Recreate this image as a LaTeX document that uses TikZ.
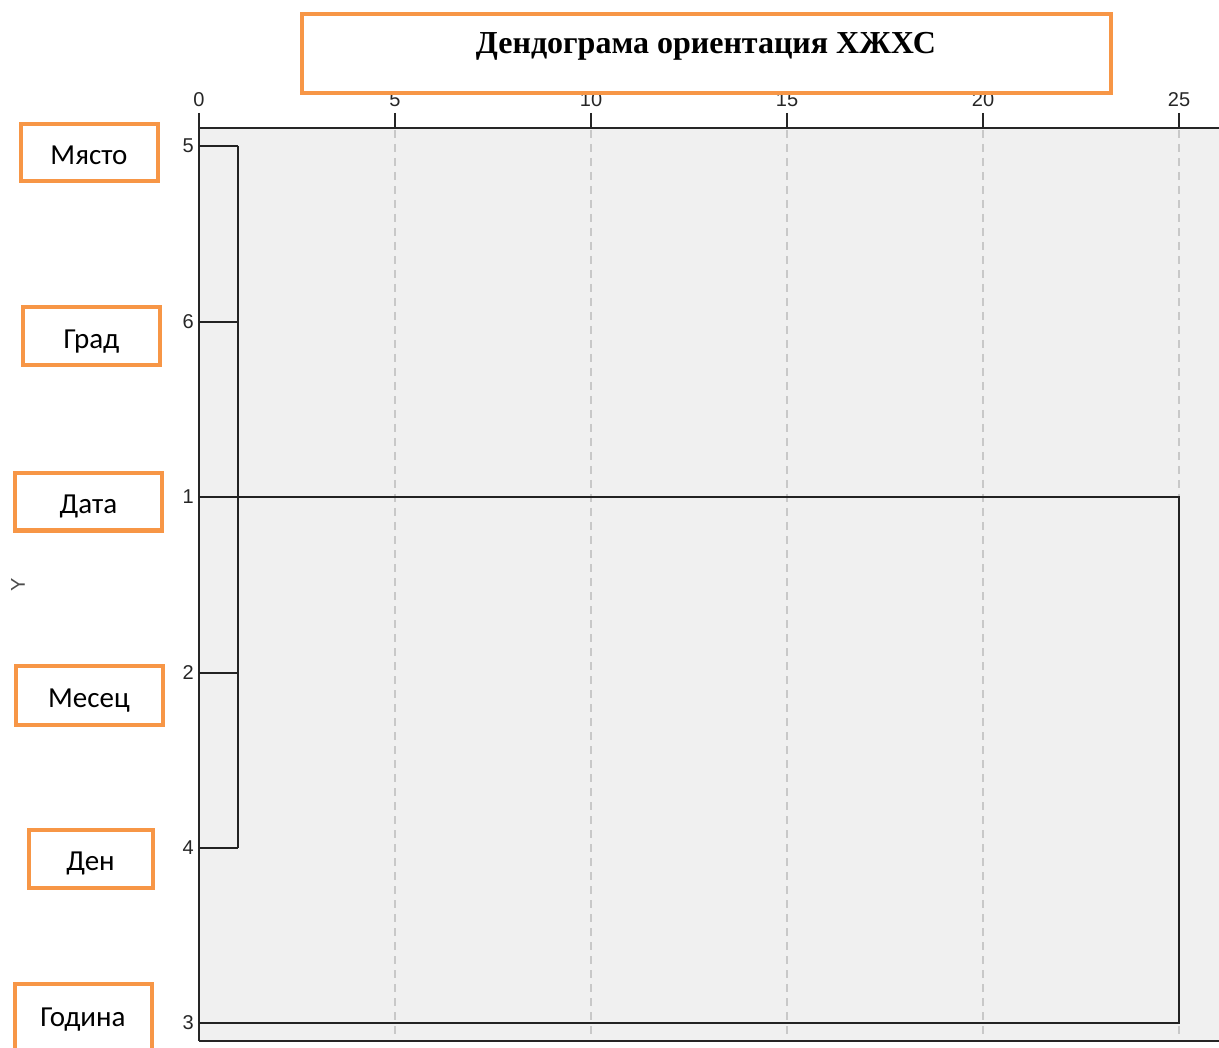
\documentclass[tikz,border=0pt]{standalone}
\usepackage{fontspec}
\setmainfont{Liberation Serif}
\newfontfamily\labfont{Carlito}
\newfontfamily\axfont{Liberation Sans}
\definecolor{boxorange}{HTML}{F79646}
\definecolor{plotbg}{HTML}{F0F0F0}
\definecolor{gridgray}{HTML}{C8C8C8}
\definecolor{dline}{HTML}{222222}
\begin{document}
\begin{tikzpicture}[x=1pt,y=-1pt,
  obox/.style={draw=boxorange,line width=4pt,fill=white,inner sep=0pt,outer sep=0pt,anchor=north west},
  lab/.style={font=\labfont\fontsize{29}{33}\selectfont,text height=24pt,text depth=0pt},
  tick/.style={font=\axfont\fontsize{20}{23}\selectfont,text=black!85,inner sep=1pt},
  grid/.style={draw=gridgray,line width=1.3pt,dash pattern=on 8pt off 6pt},
  dendro/.style={draw=dline,line width=1.8pt},
  axisline/.style={draw=black!85,line width=2.4pt}]
\useasboundingbox (0,0) rectangle (1219,1048);
% plot background
\fill[plotbg] (199,128) rectangle (1219,1041);
% grid lines
\foreach \gx in {395,591,787,983,1179}
  \draw[grid] (\gx,130) -- (\gx,1040);
% top axis ticks and labels
\foreach \gx/\lbl in {199/0,395/5,591/10,787/15,983/20,1179/25}{
  \draw[axisline,line width=1.8pt] (\gx,113) -- (\gx,128);
  \node[tick] (t\lbl) at (\gx,100) {\lbl};
}
% axes
\draw[axisline] (199,128) -- (1219,128);
\draw[axisline] (199,128) -- (199,1041);
\draw[axisline] (199,1041) -- (1219,1041);
% row coordinates and labels
\foreach \ry/\lbl in {146/5,322/6,497/1,673/2,848/4,1023/3}{
  \coordinate (r\lbl) at (199,\ry);
  \node[tick,anchor=east] (n\lbl) at (195,\ry) {\lbl};
}
\coordinate (j5) at (238,146);
\coordinate (j6) at (238,322);
\coordinate (j1) at (238,497);
\coordinate (j2) at (238,673);
\coordinate (j4) at (238,848);
\coordinate (k1) at (1179,497);
\coordinate (k3) at (1179,1023);
% dendrogram
\draw[dendro] (r5) -- (j5);
\draw[dendro] (r6) -- (j6);
\draw[dendro] (r2) -- (j2);
\draw[dendro] (r4) -- (j4);
\draw[dendro] (j5) -- (j4);
\draw[dendro] (r1) -- (k1) -- (k3) -- (r3);
% Y axis label
\node[font=\axfont\fontsize{20}{23}\selectfont,text=black!70,rotate=90] (ylab) at (18,585) {Y};
% title box
\node[obox,minimum width=809pt,minimum height=79pt] (title) at (302,14) {};
\node[font=\bfseries\fontsize{32}{36}\selectfont] (titletext) at (706,46) {Дендограма ориентация ХЖХС};
% label boxes
\node[obox,minimum width=137pt,minimum height=57pt,lab] (b5) at (20.5,124.5) {Място};
\node[obox,minimum width=137pt,minimum height=58pt,lab] (b6) at (23,307.5) {Град};
\node[obox,minimum width=147pt,minimum height=57pt,lab] (b1) at (15,473.5) {Дата};
\node[obox,minimum width=147pt,minimum height=59pt,lab] (b2) at (15.5,665.5) {Месец};
\node[obox,minimum width=124pt,minimum height=58pt,lab] (b4) at (28.5,829.5) {Ден};
\node[obox,minimum width=137pt,minimum height=80pt] (b3) at (14.5,984) {};
\node[font=\labfont\fontsize{29}{33}\selectfont,anchor=base] (b3t) at (83,1026) {Година};
\end{tikzpicture}
\end{document}
